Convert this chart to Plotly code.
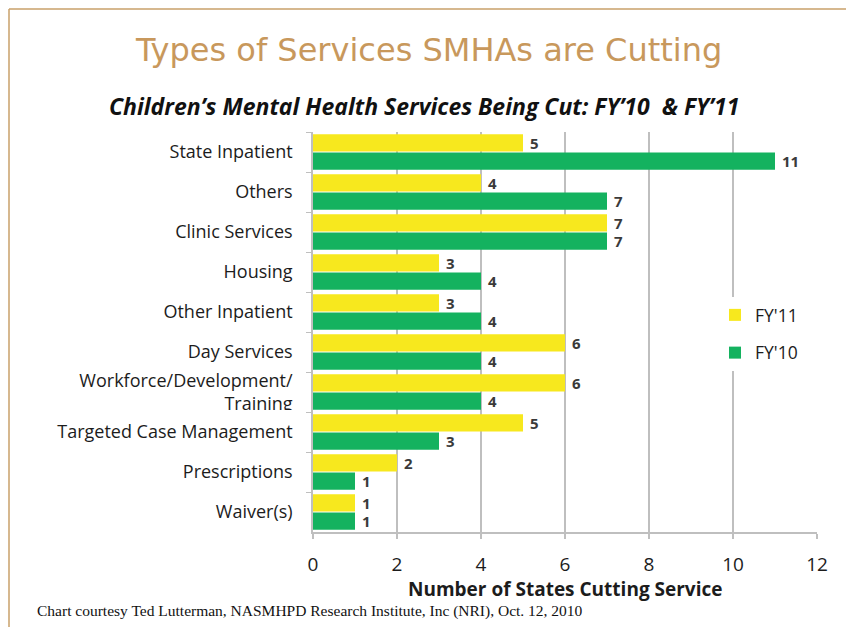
import plotly.graph_objects as go

categories = ["State Inpatient", "Others", "Clinic Services", "Housing", "Other Inpatient",
              "Day Services", "Workforce/Development/<br>Training", "Targeted Case Management",
              "Prescriptions", "Waiver(s)"]
fy11 = [5, 4, 7, 3, 3, 6, 6, 5, 2, 1]
fy10 = [11, 7, 7, 4, 4, 4, 4, 3, 1, 1]
x_ticks = [0, 2, 4, 6, 8, 10, 12]

W, H = 846, 627
L, R, T, B = 313, 29, 132, 95
PW, PH = W - L - R, H - T - B

def px(x):
    return (x - L) / PW

def py(y):
    return (H - B - y) / PH

FONT = "Open Sans, Lato, sans-serif"
LABEL_COL = "#3A3A3A"
TXT = "#1C1C1C"

fig = go.Figure()
fig.add_trace(go.Bar(y=categories, x=fy11, orientation="h", name="FY'11", legendgroup="a",
                     marker=dict(color="#F7E81E", line=dict(width=0)),
                     text=fy11, texttemplate="\u00a0<b>%{text}</b>", textposition="outside",
                     cliponaxis=False, constraintext="none",
                     textfont=dict(family=FONT, size=15, color=LABEL_COL)))
fig.add_trace(go.Bar(y=categories, x=fy10, orientation="h", name="FY'10", legendgroup="b",
                     marker=dict(color="#14B25F", line=dict(width=0)),
                     text=fy10, texttemplate="\u00a0<b>%{text}</b>", textposition="outside",
                     cliponaxis=False, constraintext="none",
                     textfont=dict(family=FONT, size=15, color=LABEL_COL)))

gold = "#C9A06A"
shapes = [
    # slide frame lines
    dict(type="line", xref="paper", yref="paper", x0=px(9), x1=px(846), y0=py(9), y1=py(9),
         line=dict(color=gold, width=1.5), layer="above"),
    dict(type="line", xref="paper", yref="paper", x0=px(9), x1=px(9), y0=py(9), y1=py(627),
         line=dict(color=gold, width=1.5), layer="above"),
    # crop edge of the embedded chart picture
    dict(type="rect", xref="paper", yref="paper", x0=px(60), x1=px(300), y0=py(410), y1=py(422),
         fillcolor="white", line=dict(width=0), layer="above"),
]

annotations = [
    dict(text="Types of Services SMHAs are Cutting", xref="paper", yref="paper",
         x=px(428), y=py(50), xanchor="center", yanchor="middle", showarrow=False,
         font=dict(family="DejaVu Sans, sans-serif", size=32, color="#C8985C")),
    dict(text="<b><i>Children\u2019s Mental Health Services Being Cut: FY\u201910  & FY\u201911</i></b>",
         xref="paper", yref="paper", x=px(424), y=py(106), xanchor="center", yanchor="middle",
         showarrow=False, font=dict(family=FONT, size=23, color="#111111")),
    dict(text="<b>Number of States Cutting Service</b>", xref="paper", yref="paper",
         x=px(565), y=py(589), xanchor="center", yanchor="middle", showarrow=False,
         font=dict(family=FONT, size=19, color=TXT)),
    dict(text="Chart courtesy Ted Lutterman, NASMHPD Research Institute, Inc (NRI), Oct. 12, 2010",
         xref="paper", yref="paper", x=px(35), y=py(611), xanchor="left", yanchor="middle",
         showarrow=False, font=dict(family="Liberation Serif, Times New Roman, serif", size=15.5,
                                    color="#111111")),
]

fig.update_layout(
    width=W, height=H,
    margin=dict(l=L, r=R, t=T, b=B, pad=0),
    paper_bgcolor="white", plot_bgcolor="white",
    barmode="group", bargap=0.08, bargroupgap=0.06,
    showlegend=True,
    legend=dict(x=px(715), y=py(334), xanchor="left", yanchor="middle",
                bgcolor="white", font=dict(family=FONT, size=17.5, color=TXT),
                traceorder="grouped", itemwidth=30, tracegroupgap=12),
    xaxis=dict(range=[0, 12], tickvals=x_ticks, ticktext=[str(v) for v in x_ticks],
               showgrid=True, gridcolor="#BFBFBF", gridwidth=1.5,
               showline=True, linecolor="#BFBFBF", linewidth=1.5,
               ticks="outside", ticklen=5, tickcolor="#BFBFBF", tickwidth=1.5,
               ticklabelstandoff=9, zeroline=False,
               tickfont=dict(family=FONT, size=19, color=TXT)),
    yaxis=dict(autorange="reversed", showgrid=False, showline=True, linecolor="#BFBFBF",
               linewidth=1.5, ticks="outside", ticklen=5, tickcolor="#BFBFBF",
               tickson="boundaries", ticklabelstandoff=15,
               tickfont=dict(family=FONT, size=18, color=TXT)),
    shapes=shapes, annotations=annotations,
)

fig.write_html("out.html", config={"displayModeBar": False},
               post_script="document.body.style.margin='0';")
